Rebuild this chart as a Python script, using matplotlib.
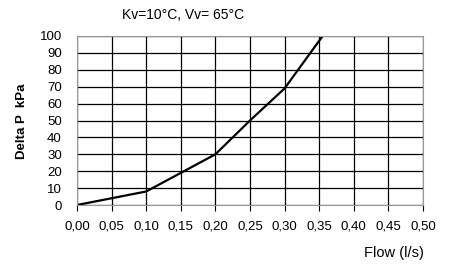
import matplotlib
matplotlib.use('Agg')
from matplotlib import pyplot as plt

flow = [0.0, 0.05, 0.10, 0.15, 0.20, 0.25, 0.30, 0.355]
delta_p = [0, 4, 8, 19, 30, 50, 69, 100]
x_ticks = [0.0, 0.05, 0.10, 0.15, 0.20, 0.25, 0.30, 0.35, 0.40, 0.45, 0.50]
y_ticks = [0, 10, 20, 30, 40, 50, 60, 70, 80, 90, 100]

plt.rcParams['font.family'] = ['Liberation Sans', 'DejaVu Sans']

fig = plt.figure(figsize=(4.49, 2.64), dpi=100)
ax = fig.add_axes([77 / 449, 1 - 205 / 264, 346 / 449, 169 / 264])

ax.plot(flow, delta_p, color='black', linewidth=1.6, solid_capstyle='butt')
ax.set_xlim(0, 0.5)
ax.set_ylim(0, 100)
ax.set_xticks(x_ticks)
ax.set_xticklabels([f'{v:.2f}'.replace('.', ',') for v in x_ticks])
ax.set_yticks(y_ticks)
ax.grid(True, color='black', linewidth=0.9)
ax.set_axisbelow(True)
for s in ax.spines.values():
    s.set_color('#999999')
    s.set_linewidth(0.8)
ax.tick_params(axis='x', length=4, width=0.8, color='black', labelsize=9.5, pad=7)
ax.tick_params(axis='y', length=0, labelsize=9.5, pad=11)

fig.text(183 / 449, 1 - 15 / 264, 'Kv=10°C, Vv= 65°C', ha='center', va='center', fontsize=10)
fig.text(22 / 449, 1 - 121 / 264, 'Delta P  kPa', rotation=90, ha='center', va='center',
         fontsize=9.5, fontweight='bold')
fig.text(394 / 449, 1 - 253 / 264, 'Flow (l/s)', ha='center', va='center', fontsize=10.5)

fig.savefig('out.png', dpi=100)
